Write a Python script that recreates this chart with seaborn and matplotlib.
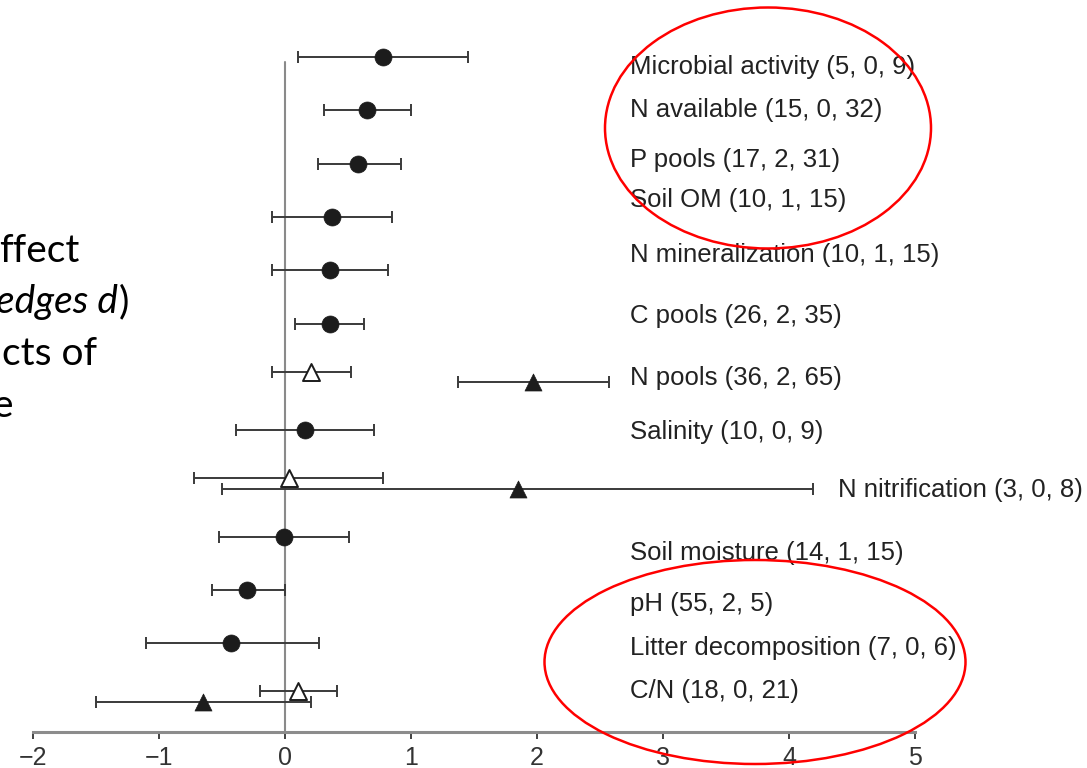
import pandas as pd
import seaborn as sns
import matplotlib.pyplot as plt
from matplotlib.patches import Ellipse

# 指标（从上到下）及括号中的研究数
variables = ['Microbial activity', 'N available', 'P pools', 'Soil OM',
             'N mineralization', 'C pools', 'N pools', 'Salinity',
             'N nitrification', 'Soil moisture', 'pH',
             'Litter decomposition', 'C/N']
counts = ['(5, 0, 9)', '(15, 0, 32)', '(17, 2, 31)', '(10, 1, 15)',
          '(10, 1, 15)', '(26, 2, 35)', '(36, 2, 65)', '(10, 0, 9)',
          '(3, 0, 8)', '(14, 1, 15)', '(55, 2, 5)', '(7, 0, 6)', '(18, 0, 21)']

# 实心圆
circle_vars = ['Microbial activity', 'N available', 'P pools', 'Soil OM',
               'N mineralization', 'C pools', 'Salinity', 'Soil moisture',
               'pH', 'Litter decomposition']
circle_d = [0.78, 0.65, 0.58, 0.37, 0.36, 0.36, 0.16, -0.01, -0.30, -0.43]
circle_lo = [0.10, 0.31, 0.26, -0.10, -0.10, 0.08, -0.39, -0.52, -0.58, -1.10]
circle_hi = [1.45, 1.00, 0.92, 0.85, 0.82, 0.63, 0.71, 0.51, 0.00, 0.27]

# 空心三角
open_vars = ['N pools', 'N nitrification', 'C/N']
open_d = [0.21, 0.03, 0.10]
open_lo = [-0.10, -0.72, -0.20]
open_hi = [0.52, 0.78, 0.41]

# 实心三角
tri_vars = ['N pools', 'N nitrification', 'C/N']
tri_d = [1.97, 1.85, -0.65]
tri_lo = [1.37, -0.50, -1.50]
tri_hi = [2.57, 4.19, 0.21]

# 标签位置（行坐标）
label_y = [0.19, 0.99, 1.93, 2.68, 3.71, 4.86, 6.02, 7.04, 8.12, 9.31, 10.26, 11.09, 11.89]
label_x = [2.74] * 13
label_x[8] = 4.39


def make_df(vars_, d, lo, hi, group, offset):
    df = pd.DataFrame({'var': vars_, 'd': d, 'lo': lo, 'hi': hi})
    df['group'] = group
    df['y'] = [variables.index(v) + offset for v in vars_]
    return df


data = pd.concat([
    make_df(circle_vars, circle_d, circle_lo, circle_hi, 'circle', 0),
    make_df(open_vars, open_d, open_lo, open_hi, 'open', -0.1),
    make_df(tri_vars, tri_d, tri_lo, tri_hi, 'tri', 0.1),
], ignore_index=True)

sns.set_style('white')
plt.rcParams['font.family'] = ['Liberation Sans', 'DejaVu Sans']

fig = plt.figure(figsize=(10.87, 7.68), dpi=100)
ax = fig.add_axes([33 / 1087, 36 / 768, 882 / 1087, 732 / 768])

# 零线
ax.axvline(0, ymin=0, ymax=0.915, color='#8a8a8a', lw=1.5, zorder=1)

styles = {
    'circle': dict(marker='o', color='#1c1c1c', edgecolor='#1c1c1c', linewidth=0.5),
    'open': dict(marker='^', color='white', edgecolor='#1c1c1c', linewidth=1.4),
    'tri': dict(marker='^', color='#1c1c1c', edgecolor='#1c1c1c', linewidth=0.5),
}
for g, sub in data.groupby('group'):
    ax.errorbar(sub['d'], sub['y'], xerr=[sub['d'] - sub['lo'], sub['hi'] - sub['d']],
                fmt='none', ecolor='#3a3a3a', elinewidth=1.4, capsize=4.3,
                capthick=1.4, zorder=2)
    sns.scatterplot(data=sub, x='d', y='y', s=150, ax=ax, legend=False,
                    zorder=3, **styles[g])

ax.set_xlim(-2, 5)
ax.set_ylim(12.66, -1.07)
ax.set_xlabel('')
ax.set_ylabel('')
ax.set_yticks([])
ax.set_xticks(range(-2, 6))
for s in ['left', 'top', 'right']:
    ax.spines[s].set_visible(False)
ax.spines['bottom'].set_color('#8c8c8c')
ax.spines['bottom'].set_linewidth(2.2)
ax.tick_params(axis='x', direction='out', length=5, width=1.3, color='#333333',
               labelsize=18, labelcolor='#333333', pad=5, bottom=True)
ax.patch.set_alpha(0)

# 右侧标签
for v, c, lx, ly in zip(variables, counts, label_x, label_y):
    ax.text(lx, ly, f'{v} {c}', fontsize=18.5, va='center', ha='left',
            color='#222222', clip_on=False)

# 左侧被截断的幻灯片文字
lf = dict(fontsize=28, color='black', family=['Lato', 'DejaVu Sans'], va='baseline')
fig.text(80 / 1087, 1 - 262 / 768, 'ffect', ha='right', **lf)
fig.text(118 / 1087, 1 - 313 / 768, 'edges d', ha='right', style='italic', **lf)
fig.text(119 / 1087, 1 - 313 / 768, ')', ha='left', **lf)
fig.text(97 / 1087, 1 - 365 / 768, 'cts of', ha='right', **lf)
fig.text(13 / 1087, 1 - 417 / 768, 'e', ha='right', **lf)

# 红色椭圆标注
fig.patches.append(Ellipse((768 / 1087, 1 - 128 / 768), 326 / 1087, 241 / 768,
                           transform=fig.transFigure, fill=False, ec='#ff0000', lw=1.8))
fig.patches.append(Ellipse((755 / 1087, 1 - 662 / 768), 421 / 1087, 204 / 768,
                           transform=fig.transFigure, fill=False, ec='#ff0000', lw=1.8))

fig.savefig('out.png', dpi=100, facecolor='white')
